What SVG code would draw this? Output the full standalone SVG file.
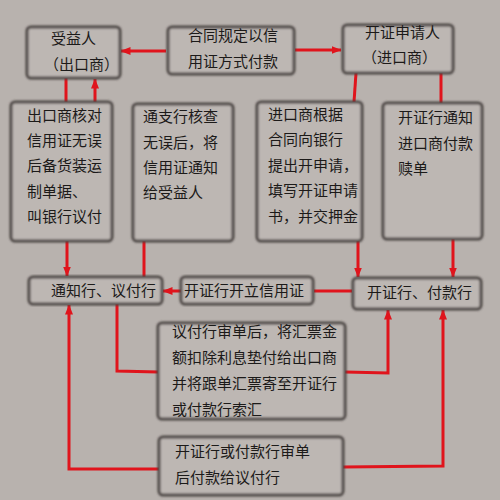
<svg xmlns="http://www.w3.org/2000/svg" width="500" height="500" viewBox="0 0 500 500">
<defs>
<filter id="blur" x="-10%" y="-10%" width="120%" height="120%"><feGaussianBlur stdDeviation="1.2"/></filter>
<marker id="arr" markerWidth="10" markerHeight="8" refX="9.5" refY="4" orient="auto" markerUnits="userSpaceOnUse"><path d="M0,0 L10,4 L0,8 Z" fill="#e0141c"/></marker>
</defs>
<style>
.box{fill:#bdb7b3;stroke:#4d4745;stroke-width:3;filter:url(#blur)}
.t{font-family:"Noto Sans CJK SC","Noto Sans CJK JP",sans-serif;font-size:15px;fill:#1c1a19}
.c{fill:none;stroke:#e0141c;stroke-width:3}
.a{marker-end:url(#arr)}
</style>
<rect width="500" height="500" fill="#b8b2ae"/>
<g id="connectors">
<path class="c a" d="M166,51 H121"/>
<path class="c a" d="M295,50 H341"/>
<path class="c" d="M66,78 V102"/>
<path class="c a" d="M95,102 V79"/>
<path class="c a" d="M67,241 V276"/>
<path class="c" d="M144,241 V277"/>
<path class="c" d="M356,73 L354,102"/>
<path class="c a" d="M358,241 V277"/>
<path class="c" d="M441,73 V103"/>
<path class="c a" d="M453,239 V277"/>
<path class="c a" d="M181,291 H163"/>
<path class="c" d="M352,291 H314"/>
<path class="c" d="M117,304 V371 L158,372"/>
<path class="c a" d="M345,372 L388,373 V310"/>
<path class="c a" d="M159,469 H69 V305"/>
<path class="c a" d="M343,467 L443,466 V310"/>
</g>
<g id="n-beneficiary"><rect class="box" x="27" y="27" width="93" height="51" rx="4"/><text class="t" x="51" y="44">受益人</text><text class="t" x="44" y="70">（出口商）</text></g>
<g id="n-contract"><rect class="box" x="168" y="27" width="126" height="47" rx="4"/><text class="t" x="188" y="41">合同规定以信</text><text class="t" x="188" y="67">用证方式付款</text></g>
<g id="n-applicant"><rect class="box" x="343" y="25" width="110" height="48" rx="4"/><text class="t" x="365" y="38">开证申请人</text><text class="t" x="362" y="63">（进口商）</text></g>
<g id="n-exporter"><rect class="box" x="11" y="102" width="101" height="139" rx="4"/><text class="t" x="27" y="121">出口商核对</text><text class="t" x="27" y="146">信用证无误</text><text class="t" x="27" y="171">后备货装运</text><text class="t" x="27" y="197">制单据、</text><text class="t" x="27" y="222">叫银行议付</text></g>
<g id="n-advising-check"><rect class="box" x="133" y="104" width="100" height="137" rx="4"/><text class="t" x="143" y="122">通支行核查</text><text class="t" x="143" y="148">无误后，将</text><text class="t" x="143" y="173">信用证通知</text><text class="t" x="143" y="198">给受益人</text></g>
<g id="n-importer"><rect class="box" x="257" y="102" width="105" height="139" rx="4"/><text class="t" x="268" y="120">进口商根据</text><text class="t" x="268" y="145">合同向银行</text><text class="t" x="268" y="171">提出开申请，</text><text class="t" x="268" y="196">填写开证申请</text><text class="t" x="268" y="222">书，并交押金</text></g>
<g id="n-issuing-notify"><rect class="box" x="383" y="103" width="99" height="136" rx="4"/><text class="t" x="398" y="123">开证行通知</text><text class="t" x="398" y="149">进口商付款</text><text class="t" x="398" y="174">赎单</text></g>
<g id="n-advising"><rect class="box" x="29" y="277" width="133" height="27" rx="4"/><text class="t" x="51" y="296">通知行、议付行</text></g>
<g id="n-open-lc"><rect class="box" x="181" y="277" width="132" height="27" rx="4"/><text class="t" x="184" y="296">开证行开立信用证</text></g>
<g id="n-issuing"><rect class="box" x="353" y="278" width="128" height="31" rx="4"/><text class="t" x="367" y="298">开证行、付款行</text></g>
<g id="n-negotiate"><rect class="box" x="158" y="323" width="187" height="96" rx="4"/><text class="t" x="172" y="337">议付行审单后，将汇票金</text><text class="t" x="172" y="363">额扣除利息垫付给出口商</text><text class="t" x="172" y="389">并将跟单汇票寄至开证行</text><text class="t" x="172" y="415">或付款行索汇</text></g>
<g id="n-pay"><rect class="box" x="159" y="437" width="184" height="58" rx="4"/><text class="t" x="175" y="457">开证行或付款行审单</text><text class="t" x="175" y="483">后付款给议付行</text></g>
</svg>
